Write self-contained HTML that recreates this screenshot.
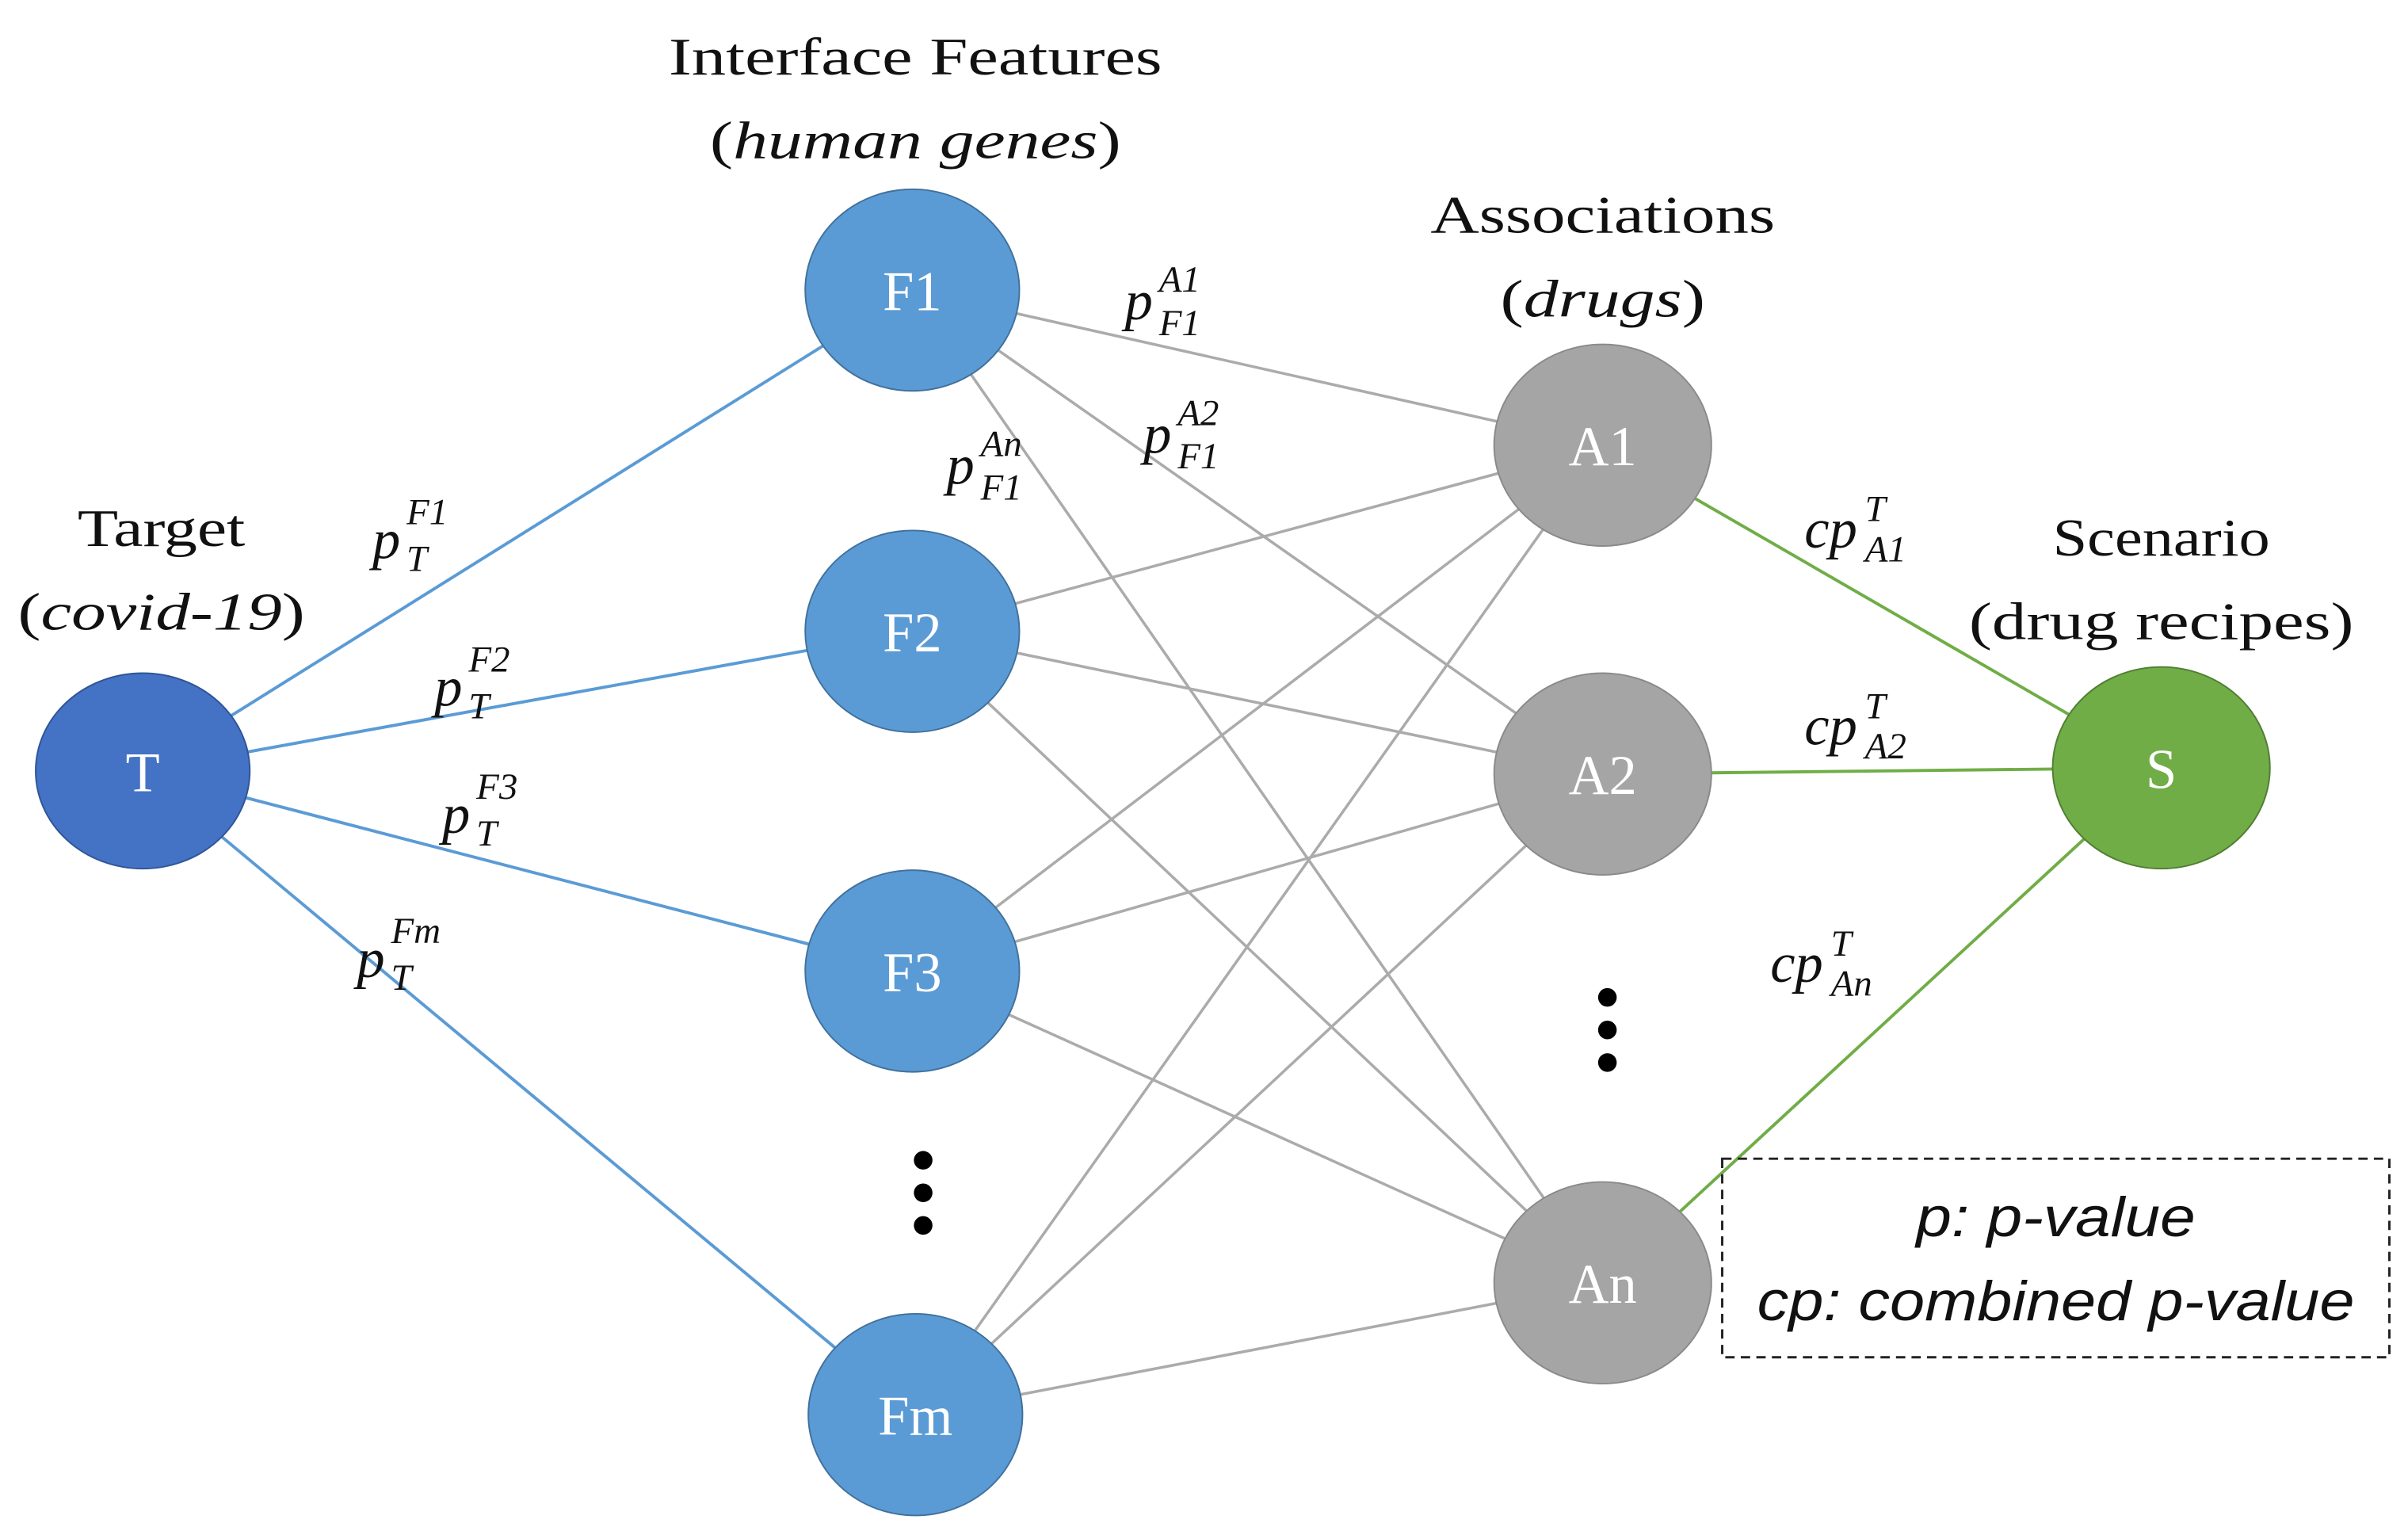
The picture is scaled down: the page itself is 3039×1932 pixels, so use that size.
<!DOCTYPE html>
<html><head><meta charset="utf-8"><style>
html,body{margin:0;padding:0;background:#fff;}
svg{display:block;}
.s{font-family:"Liberation Serif",serif;fill:#111;}
.m{font-family:"Liberation Serif",serif;font-style:italic;fill:#111;}
.n{font-family:"Liberation Serif",serif;fill:#fff;font-size:36px;}
.c{font-family:"Liberation Sans",sans-serif;font-style:italic;fill:#111;font-size:36px;}
</style></head><body>
<svg width="3039" height="1932" viewBox="0 0 1552 987" preserveAspectRatio="none" xmlns="http://www.w3.org/2000/svg">
<g stroke="#ababab" stroke-width="1.8">
<line x1="588" y1="187" x2="1033" y2="287"/><line x1="588" y1="187" x2="1033" y2="499"/><line x1="588" y1="187" x2="1033" y2="827"/>
<line x1="588" y1="407" x2="1033" y2="287"/><line x1="588" y1="407" x2="1033" y2="499"/><line x1="588" y1="407" x2="1033" y2="827"/>
<line x1="588" y1="626" x2="1033" y2="287"/><line x1="588" y1="626" x2="1033" y2="499"/><line x1="588" y1="626" x2="1033" y2="827"/>
<line x1="590" y1="912" x2="1033" y2="287"/><line x1="590" y1="912" x2="1033" y2="499"/><line x1="590" y1="912" x2="1033" y2="827"/>
</g>
<g stroke="#5b9bd5" stroke-width="2">
<line x1="92" y1="497" x2="588" y2="187"/><line x1="92" y1="497" x2="588" y2="407"/><line x1="92" y1="497" x2="588" y2="626"/><line x1="92" y1="497" x2="590" y2="912"/>
</g>
<g stroke="#70ad47" stroke-width="2">
<line x1="1033" y1="287" x2="1393" y2="495"/><line x1="1033" y1="499" x2="1393" y2="495"/><line x1="1033" y1="827" x2="1393" y2="495"/>
</g>
<ellipse cx="92" cy="497" rx="69" ry="63" fill="#4472c4" stroke="#2f5597" stroke-width="1"/>
<g fill="#5b9bd5" stroke="#41719c" stroke-width="1">
<ellipse cx="588" cy="187" rx="69" ry="65"/><ellipse cx="588" cy="407" rx="69" ry="65"/><ellipse cx="588" cy="626" rx="69" ry="65"/><ellipse cx="590" cy="912" rx="69" ry="65"/>
</g>
<g fill="#a5a5a5" stroke="#8a8a8a" stroke-width="1">
<ellipse cx="1033" cy="287" rx="70" ry="65"/><ellipse cx="1033" cy="499" rx="70" ry="65"/><ellipse cx="1033" cy="827" rx="70" ry="65"/>
</g>
<ellipse cx="1393" cy="495" rx="70" ry="65" fill="#70ad47" stroke="#507e32" stroke-width="1"/>
<g text-anchor="middle" class="n">
<text x="92" y="510">T</text><text x="588" y="200">F1</text><text x="588" y="420">F2</text><text x="588" y="639">F3</text><text x="590" y="925">Fm</text>
<text x="1033" y="300">A1</text><text x="1033" y="512">A2</text><text x="1033" y="840">An</text><text x="1393" y="508">S</text>
</g>
<g class="s" font-size="34" text-anchor="middle">
<text x="590" y="48" textLength="318" lengthAdjust="spacingAndGlyphs">Interface Features</text>
<text x="590" y="102" textLength="265" lengthAdjust="spacingAndGlyphs">(<tspan font-style="italic">human genes</tspan>)</text>
<text x="1033" y="150" textLength="222" lengthAdjust="spacingAndGlyphs">Associations</text>
<text x="1033" y="204" textLength="132" lengthAdjust="spacingAndGlyphs">(<tspan font-style="italic">drugs</tspan>)</text>
<text x="104" y="352" textLength="108" lengthAdjust="spacingAndGlyphs">Target</text>
<text x="104" y="406" textLength="185" lengthAdjust="spacingAndGlyphs">(<tspan font-style="italic">covid-19</tspan>)</text>
<text x="1393" y="358" textLength="140" lengthAdjust="spacingAndGlyphs">Scenario</text>
<text x="1393" y="412" textLength="248" lengthAdjust="spacingAndGlyphs">(drug recipes)</text>
</g>
<g class="m">
<g font-size="36"><text x="240" y="360">p</text><text x="280" y="455">p</text><text x="285" y="537">p</text><text x="230" y="630">p</text>
<text x="725" y="206">p</text><text x="737" y="292">p</text><text x="610" y="312">p</text>
<text x="1163" y="353">cp</text><text x="1163" y="480">cp</text><text x="1141" y="633">cp</text></g>
<g font-size="24">
<text x="262" y="338">F1</text><text x="262" y="368">T</text>
<text x="302" y="433">F2</text><text x="302" y="463">T</text>
<text x="307" y="515">F3</text><text x="307" y="545">T</text>
<text x="252" y="608">Fm</text><text x="252" y="638">T</text>
<text x="747" y="188">A1</text><text x="747" y="216">F1</text>
<text x="759" y="274">A2</text><text x="759" y="302">F1</text>
<text x="632" y="294">An</text><text x="632" y="322">F1</text>
<text x="1202" y="336">T</text><text x="1202" y="362">A1</text>
<text x="1202" y="463">T</text><text x="1202" y="489">A2</text>
<text x="1180" y="616">T</text><text x="1180" y="642">An</text>
</g></g>
<g fill="#000">
<circle cx="595" cy="748" r="6"/><circle cx="595" cy="769" r="6"/><circle cx="595" cy="790" r="6"/>
<circle cx="1036" cy="643" r="6"/><circle cx="1036" cy="664" r="6"/><circle cx="1036" cy="685" r="6"/>
</g>
<rect x="1110" y="747" width="430" height="128" fill="none" stroke="#222" stroke-width="1.5" stroke-dasharray="6,4"/>
<g class="c" text-anchor="middle">
<text x="1325" y="797" textLength="180" lengthAdjust="spacingAndGlyphs">p: p-value</text>
<text x="1325" y="851" textLength="385" lengthAdjust="spacingAndGlyphs">cp: combined p-value</text>
</g>
</svg>
</body></html>
